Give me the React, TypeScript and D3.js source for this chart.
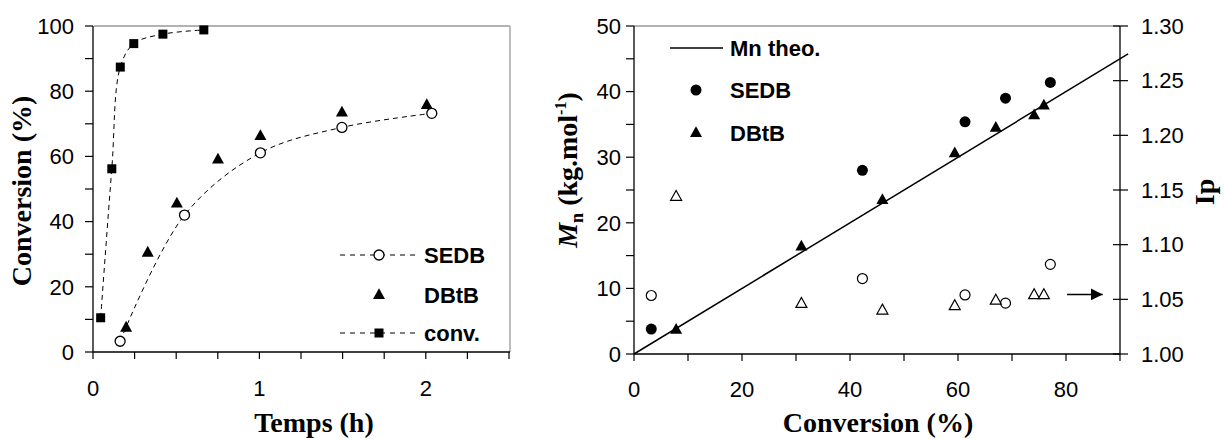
import React from "react";
import * as d3 from "d3";

// ---- Left chart data: conversion vs time ----
const convTime = [0.04, 0.107, 0.158, 0.239, 0.414, 0.66];
const convVal = [10.5, 56.2, 87.4, 94.6, 97.5, 98.8];
const sedbTime = [0.157, 0.544, 1.0, 1.49, 2.03];
const sedbConv = [3.3, 42.0, 61.1, 68.9, 73.2];
const dbtbTime = [0.193, 0.323, 0.498, 0.745, 1.0, 1.49, 2.0];
const dbtbConv = [7.5, 30.5, 45.6, 59.1, 66.3, 73.5, 75.8];
const leftXTicks = [0, 0.25, 0.5, 0.75, 1, 1.25, 1.5, 1.75, 2, 2.25, 2.5];
const leftXLabels = [0, 1, 2];
const leftYTicks = [0, 10, 20, 30, 40, 50, 60, 70, 80, 90, 100];
const leftYLabels = [0, 20, 40, 60, 80, 100];

// ---- Right chart data: Mn & Ip vs conversion ----
const theoConv = [0, 91.5];
const theoMn = [0, 45.75];
const sedbMnConv = [3.2, 42.3, 61.3, 68.8, 77.1];
const sedbMn = [3.8, 28.0, 35.4, 39.0, 41.4];
const sedbIp = [1.0535, 1.069, 1.054, 1.0465, 1.082];
const dbtbMnConv = [7.8, 31.0, 46.0, 59.4, 67.0, 74.1, 75.9];
const dbtbMn = [3.7, 16.4, 23.5, 30.6, 34.5, 36.4, 37.9];
const dbtbIp = [1.144, 1.046, 1.040, 1.044, 1.049, 1.054, 1.054];
const arrowConv = [80.2, 86.8];
const arrowIp = 1.0545;
const rightXTicks = [0, 10, 20, 30, 40, 50, 60, 70, 80, 90];
const rightXLabels = [0, 20, 40, 60, 80];
const rightYTicks = [0, 5, 10, 15, 20, 25, 30, 35, 40, 45, 50];
const rightYLabels = [0, 10, 20, 30, 40, 50];
const ipTicks = [1.0, 1.05, 1.1, 1.15, 1.2, 1.25, 1.3];

const SANS = "'Liberation Sans', Arial, sans-serif";
const SERIF = "'Liberation Serif', 'Times New Roman', serif";

function tri(cx: number, cy: number, s: number) {
  const h = s * 0.9;
  return `M${cx},${cy - h * 0.62} L${cx + s / 2},${cy + h * 0.38} L${cx - s / 2},${cy + h * 0.38} Z`;
}

export default function App() {
  // left scales
  const lx = d3.scaleLinear().domain([0, 2.5]).range([94, 510]);
  const ly = d3.scaleLinear().domain([0, 100]).range([352, 26]);
  // right scales
  const rx = d3.scaleLinear().domain([0, 90]).range([634, 1120]);
  const ry = d3.scaleLinear().domain([0, 50]).range([354, 26]);
  const ry2 = d3.scaleLinear().domain([1, 1.3]).range([354, 26]);

  const smooth = d3
    .line<[number, number]>()
    .x((d) => lx(d[0]))
    .y((d) => ly(d[1]))
    .curve(d3.curveCatmullRom.alpha(0.5));
  const convPath = smooth(convTime.map((t, i) => [t, convVal[i]]) as [number, number][]) || "";
  const sedbPath = smooth(sedbTime.map((t, i) => [t, sedbConv[i]]) as [number, number][]) || "";

  const theoLine =
    d3
      .line<[number, number]>()
      .x((d) => rx(d[0]))
      .y((d) => ry(d[1]))(theoConv.map((c, i) => [c, theoMn[i]]) as [number, number][]) || "";

  const tickFont = { fontFamily: SANS, fontSize: 22, fill: "#000" } as const;
  const legFont = { fontFamily: SANS, fontSize: 22, fontWeight: "bold" as const, fill: "#000" };
  const titleFont = { fontFamily: SERIF, fontSize: 28, fontWeight: "bold" as const, fill: "#000" };

  const ax = lx(2.5);
  const arrowY = ry2(arrowIp);

  return (
    <svg
      width={1225}
      height={439}
      style={{ position: "absolute", left: 0, top: 0, background: "#fff" }}
    >
      <defs>
        <marker id="arr" viewBox="0 0 10 10" refX="10" refY="5" markerWidth="12" markerHeight="12" markerUnits="userSpaceOnUse" orient="auto">
          <path d="M0,0 L10,5 L0,10 Z" fill="#000" />
        </marker>
      </defs>
      {/* ================= LEFT CHART ================= */}
      <g>
        {/* frame */}
        <line x1={lx(0)} x2={ax} y1={ly(100)} y2={ly(100)} stroke="#999" strokeWidth={1.3} />
        <line x1={ax} x2={ax} y1={ly(100)} y2={ly(0)} stroke="#999" strokeWidth={1.3} />
        <line x1={lx(0) - 1} x2={lx(0) - 1} y1={ly(100)} y2={ly(0)} stroke="#000" strokeWidth={1.3} />
        <line x1={lx(0) - 1} x2={ax} y1={ly(0)} y2={ly(0)} stroke="#000" strokeWidth={1.3} />
        {leftYTicks.map((t) => (
          <line key={"lyt" + t} x1={lx(0) - 9} x2={lx(0) - 1} y1={ly(t)} y2={ly(t)} stroke="#000" strokeWidth={1.2} />
        ))}
        {leftYLabels.map((t) => (
          <text key={"lyl" + t} x={lx(0) - 20} y={ly(t)} dy="0.35em" textAnchor="end" {...tickFont}>
            {t}
          </text>
        ))}
        {leftXTicks.map((t) => (
          <line key={"lxt" + t} x1={lx(t) - 1} x2={lx(t) - 1} y1={ly(0)} y2={ly(0) + 7} stroke="#000" strokeWidth={1.2} />
        ))}
        {leftXLabels.map((t) => (
          <text key={"lxl" + t} x={lx(t) - 1} y={396} textAnchor="middle" {...tickFont}>
            {t}
          </text>
        ))}
        {/* lines */}
        <path d={convPath} fill="none" stroke="#000" strokeWidth={1} strokeDasharray="5,4" />
        <path d={sedbPath} fill="none" stroke="#000" strokeWidth={1} strokeDasharray="5,4" />
        {/* markers */}
        {convTime.map((t, i) => (
          <rect key={"cv" + i} x={lx(t) - 4.5} y={ly(convVal[i]) - 4.5} width={9} height={9} fill="#000" />
        ))}
        {dbtbTime.map((t, i) => (
          <path key={"dt" + i} d={tri(lx(t), ly(dbtbConv[i]), 12)} fill="#000" />
        ))}
        {sedbTime.map((t, i) => (
          <circle key={"se" + i} cx={lx(t)} cy={ly(sedbConv[i])} r={5} fill="#fff" stroke="#000" strokeWidth={1.3} />
        ))}
        {/* legend */}
        <line x1={340} x2={418} y1={255} y2={255} stroke="#000" strokeDasharray="5,5" />
        <circle cx={379} cy={255} r={5} fill="#fff" stroke="#000" strokeWidth={1.3} />
        <text x={424} y={263} {...legFont}>SEDB</text>
        <path d={tri(379, 295, 12)} fill="#000" />
        <text x={424} y={303} {...legFont}>DBtB</text>
        <line x1={340} x2={418} y1={333} y2={333} stroke="#000" strokeDasharray="5,5" />
        <rect x={374.5} y={328.5} width={9} height={9} fill="#000" />
        <text x={424} y={341} {...legFont}>conv.</text>
        {/* titles */}
        <text x={314} y={432} textAnchor="middle" {...titleFont}>Temps (h)</text>
        <text transform={`translate(31,${191}) rotate(-90)`} textAnchor="middle" {...titleFont}>
          Conversion (%)
        </text>
      </g>

      {/* ================= RIGHT CHART ================= */}
      <g>
        <line x1={rx(0)} x2={rx(90)} y1={ry(50)} y2={ry(50)} stroke="#999" strokeWidth={1.3} />
        <line x1={rx(0)} x2={rx(0)} y1={ry(50)} y2={ry(0)} stroke="#000" strokeWidth={1.3} />
        <line x1={rx(90)} x2={rx(90)} y1={ry(50)} y2={ry(0)} stroke="#000" strokeWidth={1.3} />
        <line x1={rx(0)} x2={rx(90)} y1={ry(0)} y2={ry(0)} stroke="#000" strokeWidth={1.3} />
        {rightYTicks.map((t) => (
          <line key={"ryt" + t} x1={rx(0) - 8} x2={rx(0)} y1={ry(t)} y2={ry(t)} stroke="#000" strokeWidth={1.2} />
        ))}
        {rightYLabels.map((t) => (
          <text key={"ryl" + t} x={rx(0) - 13} y={ry(t)} dy="0.35em" textAnchor="end" {...tickFont}>
            {t}
          </text>
        ))}
        {ipTicks.map((t) => (
          <line key={"ipt" + t} x1={rx(90) - 7} x2={rx(90) + 8} y1={ry2(t)} y2={ry2(t)} stroke="#000" strokeWidth={1.2} />
        ))}
        {ipTicks.map((t) => (
          <text key={"ipl" + t} x={rx(90) + 21} y={ry2(t)} dy="0.35em" textAnchor="start" {...tickFont}>
            {d3.format(".2f")(t)}
          </text>
        ))}
        {rightXTicks.map((t) => (
          <line key={"rxt" + t} x1={rx(t)} x2={rx(t)} y1={ry(0)} y2={ry(0) + 7} stroke="#000" strokeWidth={1.2} />
        ))}
        {rightXLabels.map((t) => (
          <text key={"rxl" + t} x={rx(t)} y={397} textAnchor="middle" {...tickFont}>
            {t}
          </text>
        ))}
        {/* theo line */}
        <path d={theoLine} fill="none" stroke="#000" strokeWidth={1.5} />
        {/* Mn markers */}
        {sedbMnConv.map((c, i) => (
          <circle key={"sm" + i} cx={rx(c)} cy={ry(sedbMn[i])} r={5.5} fill="#000" />
        ))}
        {dbtbMnConv.map((c, i) => (
          <path key={"dm" + i} d={tri(rx(c), ry(dbtbMn[i]), 12)} fill="#000" />
        ))}
        {/* Ip markers */}
        {sedbMnConv.map((c, i) => (
          <circle key={"si" + i} cx={rx(c)} cy={ry2(sedbIp[i])} r={5} fill="#fff" stroke="#000" strokeWidth={1.2} />
        ))}
        {dbtbMnConv.map((c, i) => (
          <path key={"di" + i} d={tri(rx(c), ry2(dbtbIp[i]), 11)} fill="#fff" stroke="#000" strokeWidth={1.2} />
        ))}
        {/* arrow */}
        <line x1={rx(arrowConv[0])} x2={rx(arrowConv[1])} y1={arrowY} y2={arrowY} stroke="#000" strokeWidth={1.5} markerEnd="url(#arr)" />
        {/* legend */}
        <line x1={670} x2={723} y1={48} y2={48} stroke="#000" strokeWidth={1.5} />
        <text x={730} y={56} {...legFont}>Mn theo.</text>
        <circle cx={696} cy={90} r={5.5} fill="#000" />
        <text x={730} y={98} {...legFont}>SEDB</text>
        <path d={tri(696, 133, 12)} fill="#000" />
        <text x={730} y={141} {...legFont}>DBtB</text>
        {/* titles */}
        <text x={878} y={432} textAnchor="middle" {...titleFont}>Conversion (%)</text>
        <text transform={`translate(577,${170}) rotate(-90)`} textAnchor="middle" {...titleFont}>
          <tspan fontStyle="italic">M</tspan>
          <tspan fontSize={18} dy={6}>n</tspan>
          <tspan dy={-6}> (kg.mol</tspan>
          <tspan fontSize={16} dy={-11}>-1</tspan>
          <tspan dy={11}>)</tspan>
        </text>
        <text transform={`translate(1214,${192}) rotate(-90)`} textAnchor="middle" {...titleFont}>
          Ip
        </text>
      </g>
    </svg>
  );
}
